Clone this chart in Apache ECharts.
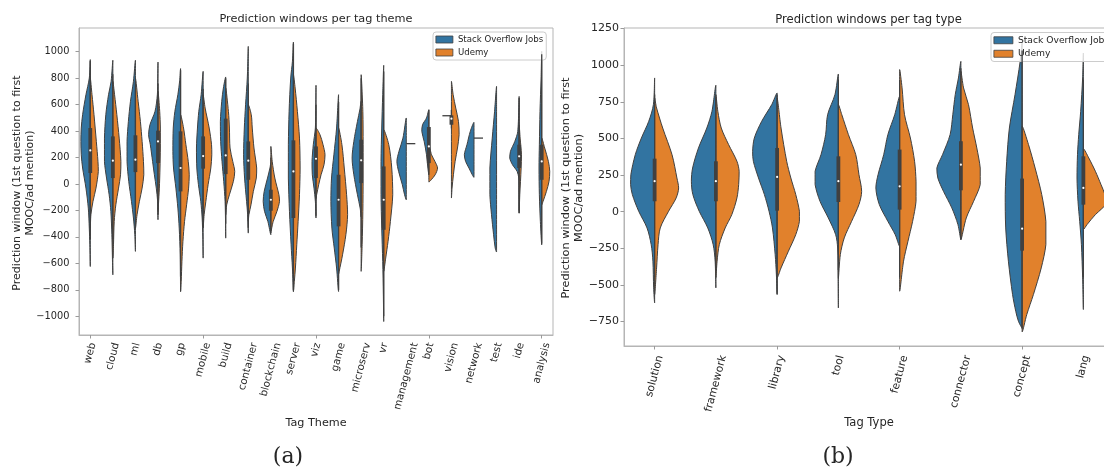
<!DOCTYPE html>
<html>
<head>
<meta charset="utf-8">
<script src="https://cdn.jsdelivr.net/npm/echarts@6/dist/echarts.min.js"></script>
<style>
  html, body { margin: 0; padding: 0; background: #fff; }
  #chart { width: 1104px; height: 469px; }
</style>
</head>
<body>
<div id="chart"></div>
<script>
// ---------- categories ----------
const themeCategories = ['web', 'cloud', 'ml', 'db', 'gp', 'mobile', 'build', 'container', 'blockchain',
  'server', 'viz', 'game', 'microserv', 'vr', 'management', 'bot', 'vision', 'network', 'test', 'ide', 'analysis'];
const typeCategories = ['solution', 'framework', 'library', 'tool', 'feature', 'connector', 'concept', 'lang'];

// ---------- y tick labels ----------
const themeTicks = [-1000, -800, -600, -400, -200, 0, 200, 400, 600, 800, 1000];
const typeTicks = [-750, -500, -250, 0, 250, 500, 750, 1000, 1250];

// ---------- density profiles: [value (days), relative half-width 0..1] ----------
const themeJobsProfiles = [
  [[940,0],[800,0.11],[675,0.48],[524,0.85],[423,1.0],[322,1.04],[221,1.0],[121,0.85],[-31,0.48],[-182,0.22],[-333,0.11],[-459,0.05],[-623,0]],
  [[935,0],[776,0.19],[675,0.48],[524,0.78],[347,0.93],[171,0.93],[45,0.7],[-81,0.41],[-207,0.22],[-383,0.11],[-686,0]],
  [[935,0],[776,0.22],[625,0.55],[473,0.78],[322,0.93],[171,0.93],[20,0.74],[-131,0.44],[-257,0.22],[-380,0.07],[-509,0]],
  [[922,0],[800,0.03],[675,0.07],[549,0.33],[448,0.89],[373,1.04],[297,0.85],[171,0.6],[70,0.4],[-31,0.19],[-131,0.04],[-270,0]],
  [[872,0],[780,0.1],[675,0.3],[549,0.63],[423,0.81],[247,0.85],[121,0.78],[-31,0.52],[-182,0.3],[-333,0.15],[-535,0.04],[-812,0]],
  [[851,0],[675,0.22],[549,0.48],[423,0.63],[272,0.74],[121,0.7],[-5,0.52],[-131,0.26],[-257,0.11],[-400,0.04],[-560,0]],
  [[809,0],[725,0.26],[625,0.44],[473,0.59],[322,0.56],[171,0.41],[20,0.22],[-131,0.07],[-280,0.02],[-409,0]],
  [[1040,0],[801,0.11],[599,0.3],[423,0.44],[221,0.52],[45,0.41],[-131,0.19],[-232,0.07],[-371,0]],
  [[160,0],[121,0.1],[45,0.37],[-56,0.74],[-131,0.85],[-207,0.7],[-283,0.33],[-383,0]],
  [[1073,0],[927,0.11],[801,0.3],[549,0.48],[297,0.56],[45,0.56],[-207,0.44],[-459,0.26],[-635,0.11],[-812,0]],
  [[746,0],[600,0.02],[423,0.07],[297,0.3],[171,0.44],[70,0.41],[-31,0.22],[-131,0.07],[-257,0]],
  [[675,0],[423,0.22],[221,0.52],[45,0.78],[-131,0.85],[-333,0.74],[-484,0.48],[-635,0.22],[-812,0]],
  [[625,0],[560,0.15],[473,0.41],[322,0.81],[196,1.0],[70,0.81],[-81,0.41],[-182,0.11],[-250,0]],
  [[897,0],[675,0.11],[423,0.22],[171,0.3],[-81,0.3],[-333,0.22],[-585,0.11],[-837,0.04],[-1039,0]],
  [[499,0],[347,0.37],[247,0.81],[171,1.04],[95,0.85],[-5,0.44],[-81,0.19],[-119,0]],
  [[562,0],[499,0.26],[448,0.7],[398,0.78],[322,0.52],[221,0.26],[121,0.11],[70,0]],
  null,
  [[466,0],[398,0.41],[297,0.78],[221,1.07],[171,0.93],[121,0.56],[70,0.19],[50,0]],
  [[738,0],[549,0.22],[347,0.48],[121,0.74],[-81,0.74],[-232,0.56],[-383,0.33],[-484,0.15],[-514,0]],
  [[662,0],[398,0.15],[322,0.48],[247,0.96],[196,1.04],[146,0.74],[95,0.22],[45,0.04],[0,0.02],[-220,0]],
  [[1003,0],[801,0.07],[549,0.19],[297,0.26],[121,0.3],[-81,0.26],[-283,0.15],[-459,0]]
];
const themeUdemyProfiles = [
  [[801,0],[675,0.19],[524,0.41],[322,0.67],[171,0.85],[95,0.89],[-31,0.63],[-131,0.3],[-232,0.07],[-333,0]],
  [[776,0],[675,0.19],[524,0.44],[347,0.7],[171,0.89],[70,0.85],[-31,0.63],[-157,0.33],[-283,0.15],[-459,0.07],[-560,0]],
  [[800,0],[625,0.3],[473,0.55],[322,0.74],[171,0.89],[70,0.93],[-31,0.74],[-131,0.44],[-232,0.18],[-333,0]],
  [[700,0],[549,0.19],[423,0.26],[272,0.26],[121,0.22],[-31,0.15],[-157,0.05],[-232,0]],
  [[524,0],[423,0.33],[297,0.59],[171,0.85],[70,0.96],[-31,0.89],[-157,0.67],[-283,0.44],[-434,0.26],[-585,0.15],[-736,0.07],[-812,0]],
  [[675,0],[574,0.22],[423,0.67],[297,0.93],[221,0.96],[121,0.85],[-5,0.55],[-131,0.3],[-232,0.11],[-333,0]],
  [[725,0],[549,0.3],[423,0.41],[272,0.48],[171,0.78],[95,1.0],[20,0.85],[-81,0.41],[-157,0.11],[-232,0]],
  [[599,0],[524,0.33],[423,0.44],[272,0.63],[121,0.93],[45,0.89],[-56,0.56],[-157,0.3],[-232,0.07],[-280,0]],
  [[284,0],[171,0.15],[45,0.44],[-81,0.89],[-131,0.96],[-207,0.67],[-283,0.26],[-358,0]],
  [[826,0],[725,0.19],[549,0.44],[347,0.67],[121,0.74],[-81,0.67],[-283,0.52],[-459,0.37],[-635,0.22],[-736,0.1],[-812,0]],
  [[423,0],[373,0.44],[297,0.78],[221,1.0],[146,0.89],[70,0.56],[-5,0.3],[-81,0.07],[-110,0]],
  [[423,0],[297,0.37],[121,0.63],[-81,0.89],[-232,1.0],[-383,0.81],[-535,0.44],[-660,0.07],[-680,0]],
  [[826,0],[549,0.19],[297,0.22],[45,0.22],[-207,0.19],[-459,0.11],[-660,0]],
  [[410,0],[297,0.56],[121,0.89],[-81,1.0],[-283,0.74],[-434,0.48],[-560,0.22],[-660,0]],
  null,
  [[297,0],[221,0.3],[171,0.67],[121,0.96],[70,0.7],[32,0.26],[15,0]],
  [[776,0],[675,0.19],[574,0.48],[473,0.78],[373,0.85],[272,0.67],[171,0.41],[70,0.22],[-31,0.07],[-106,0]],
  null,
  null,
  [[448,0],[347,0.11],[221,0.26],[121,0.22],[20,0.15],[-81,0.07],[-220,0]],
  [[347,0],[272,0.33],[171,0.74],[95,0.89],[20,0.81],[-56,0.52],[-131,0.15],[-157,0]]
];
const typeJobsProfiles = [
  [[913,0],[731,0.05],[617,0.24],[503,0.54],[389,0.79],[253,0.97],[185,0.98],[117,0.91],[3,0.65],[-111,0.31],[-225,0.14],[-338,0.07],[-520,0.04],[-623,0]],
  [[863,0],[685,0.16],[571,0.37],[435,0.71],[298,0.95],[208,1.0],[117,0.94],[3,0.68],[-111,0.33],[-225,0.11],[-338,0.03],[-520,0]],
  [[810,0],[731,0.22],[617,0.63],[503,0.93],[412,1.0],[344,0.97],[230,0.76],[117,0.52],[3,0.33],[-111,0.19],[-293,0.08],[-430,0.03],[-566,0]],
  [[940,0],[799,0.14],[662,0.44],[526,0.52],[389,0.71],[276,0.95],[185,0.95],[71,0.75],[-43,0.41],[-157,0.11],[-248,0.03],[-450,0.01],[-657,0]],
  [[788,0],[662,0.2],[526,0.48],[389,0.65],[253,0.88],[162,0.97],[49,0.83],[-66,0.48],[-157,0.18],[-236,0]],
  [[1026,0],[913,0.1],[799,0.23],[662,0.33],[526,0.44],[389,0.75],[298,0.98],[230,0.94],[139,0.71],[26,0.37],[-88,0.12],[-190,0]],
  [[1150,0],[1026,0.08],[799,0.29],[571,0.52],[344,0.63],[117,0.69],[-111,0.67],[-338,0.56],[-566,0.39],[-680,0.26],[-748,0.15],[-793,0]],
  [[1083,0],[913,0.03],[685,0.11],[526,0.19],[389,0.24],[230,0.26],[71,0.22],[-66,0.15],[-225,0.08],[-452,0.03],[-668,0]]
];
const typeUdemyProfiles = [
  [[776,0],[708,0.08],[571,0.33],[389,0.71],[230,0.91],[162,0.98],[94,0.88],[3,0.57],[-111,0.23],[-225,0.14],[-384,0.08],[-566,0]],
  [[799,0],[685,0.08],[571,0.22],[458,0.52],[344,0.86],[276,0.95],[185,0.93],[94,0.86],[-20,0.65],[-111,0.38],[-225,0.14],[-338,0.05],[-450,0]],
  [[776,0],[571,0.16],[344,0.39],[230,0.56],[117,0.76],[3,0.91],[-66,0.91],[-157,0.76],[-270,0.46],[-384,0.16],[-452,0]],
  [[731,0],[662,0.14],[526,0.41],[389,0.71],[253,0.84],[139,0.95],[49,0.84],[-66,0.54],[-179,0.24],[-293,0.08],[-452,0]],
  [[970,0],[845,0.1],[662,0.2],[503,0.44],[344,0.61],[208,0.67],[71,0.67],[-66,0.53],[-202,0.34],[-338,0.16],[-543,0]],
  [[958,0],[845,0.11],[731,0.31],[571,0.48],[435,0.65],[298,0.79],[185,0.79],[71,0.52],[-43,0.22],[-190,0]],
  [[583,0],[458,0.26],[298,0.53],[117,0.8],[-66,0.97],[-225,0.97],[-384,0.78],[-566,0.46],[-702,0.19],[-821,0]],
  [[430,0],[367,0.22],[276,0.49],[185,0.72],[117,0.88],[60,0.95],[20,0.75],[-20,0.49],[-88,0.15],[-122,0]]
];

// ---------- inner boxes: [lower whisker, q1, median, q3, upper whisker] ----------
const themeBoxStats = [
  [-420, 83, 254, 423, 930], [-420, 45, 176, 360, 830], [-330, 90, 184, 368, 780], [-200, 158, 322, 403, 760],
  [-700, -56, 121, 398, 860], [-330, 116, 211, 360, 720], [-300, 75, 216, 494, 800], [-330, 32, 176, 322, 760],
  [-370, -202, -119, -43, 200], [-800, -257, 95, 330, 1060], [-240, 45, 191, 284, 600], [-800, -320, -119, 70, 620],
  [-480, 7, 179, 335, 800], [-1000, -346, -119, 133, 850], null, [70, 158, 284, 431, 560],
  [420, 448, 494, 519, 560], null, null, [-200, 121, 209, 297, 650], [-450, 32, 171, 297, 980]
];
const typeBoxStats = [
  [-450, 71, 208, 362, 800], [-400, 71, 208, 344, 780], [-560, 7, 237, 435, 800], [-400, 66, 208, 378, 900],
  [-450, 14, 173, 424, 900], [-190, 146, 321, 481, 980], [-800, -266, -116, 226, 1100], [-450, 48, 162, 378, 900]
];

// ---------- groups with a single observation: [category, side, value] ----------
const themeSingleObs = [['management', 'Udemy', 305], ['vision', 'Stack Overflow Jobs', 516], ['network', 'Udemy', 347]];

// ---------- styling ----------
const BLUE = '#3274a1';
const ORANGE = '#e1812c';
const EDGE = '#404040';
const TEXT = '#262626';
const SPINE = '#b5b5b5';
const FAMILY = '"DejaVu Sans", sans-serif';
const THEME_RANGE = [-1141, 1179];
const TYPE_RANGE = [-917, 1254];

const measureCtx = document.createElement('canvas').getContext('2d');
function textWidth(t, font) { measureCtx.font = font; return measureCtx.measureText(t).width; }
const fmtTick = v => (v < 0 ? '\u2212' + Math.abs(v) : String(v));

function bounds(points) {
  const min = [Infinity, Infinity], max = [-Infinity, -Infinity];
  points.forEach(p => {
    min[0] = Math.min(min[0], p[0]); min[1] = Math.min(min[1], p[1]);
    max[0] = Math.max(max[0], p[0]); max[1] = Math.max(max[1], p[1]);
  });
  return [min, max];
}

// one half of a split violin per category; side = -1 (left) or +1 (right)
function halfViolins(name, gi, profiles, side, color) {
  return {
    type: 'custom', name, xAxisIndex: gi, yAxisIndex: gi, z: 2, silent: true,
    itemStyle: { color, borderColor: EDGE },
    data: profiles.map((p, i) => [i, p ? p[0][0] : 0]),
    renderItem(params, api) {
      const i = params.dataIndex;
      const prof = profiles[i];
      if (!prof) return null;
      const half = api.size([1, 0])[0] * 0.4;
      const edge = prof.map(([v, w]) => { const c = api.coord([i, v]); return [c[0] + side * w * half, c[1]]; });
      const center = prof.slice(1, -1).reverse().map(([v]) => api.coord([i, v]));
      const pts = edge.concat(center);
      return {
        type: 'polygon',
        shape: { points: pts, smooth: 0.3, smoothConstraint: bounds(pts) },
        style: { fill: color, stroke: EDGE, lineWidth: 1 }
      };
    }
  };
}

// dark box (IQR), thin whisker line and white median dot
function innerBoxes(gi, stats) {
  return {
    type: 'custom', name: 'box', xAxisIndex: gi, yAxisIndex: gi, z: 4, silent: true,
    data: stats.map((s, i) => [i, s ? s[2] : 0]),
    renderItem(params, api) {
      const i = params.dataIndex;
      const s = stats[i];
      if (!s) return null;
      const [lo, q1, med, q3, hi] = s.map(v => api.coord([i, v]));
      const cx = lo[0];
      return {
        type: 'group',
        children: [
          { type: 'line', shape: { x1: cx, y1: lo[1], x2: cx, y2: hi[1] }, style: { stroke: EDGE, lineWidth: 1.3 } },
          { type: 'rect', shape: { x: cx - 1.9, y: q3[1], width: 3.8, height: q1[1] - q3[1] }, style: { fill: EDGE } },
          { type: 'circle', shape: { cx, cy: med[1], r: 1.1 }, style: { fill: '#ffffff' } }
        ]
      };
    }
  };
}

// horizontal stick for a group holding one observation
function singleSticks(gi, cats, obs) {
  return {
    type: 'custom', name: 'single', xAxisIndex: gi, yAxisIndex: gi, z: 3, silent: true,
    data: obs.map(o => [cats.indexOf(o[0]), o[2]]),
    renderItem(params, api) {
      const o = obs[params.dataIndex];
      const c = api.coord([cats.indexOf(o[0]), o[2]]);
      const half = api.size([1, 0])[0] * 0.4;
      const side = o[1] === 'Udemy' ? 1 : -1;
      return { type: 'line', shape: { x1: c[0], y1: c[1], x2: c[0] + side * half, y2: c[1] }, style: { stroke: EDGE, lineWidth: 1.3 } };
    }
  };
}

// category names rotated 75°, bounding box centred under each tick
function categoryLabels(gi, cats, yMin, fontSize, pad) {
  const font = fontSize + 'px ' + FAMILY;
  const a = 75 * Math.PI / 180;
  return {
    type: 'custom', name: 'labels', xAxisIndex: gi, yAxisIndex: gi, z: 5, silent: true,
    data: cats.map((c, i) => [i, yMin]),
    renderItem(params, api) {
      const i = params.dataIndex;
      const c = api.coord([i, yMin]);
      const L = textWidth(cats[i], font);
      const H = L * Math.sin(a) + fontSize * 1.12 * Math.cos(a);
      return {
        type: 'text', x: c[0], y: c[1] + pad + H / 2, rotation: a,
        style: { text: cats[i], font, fill: TEXT, align: 'center', verticalAlign: 'middle' }
      };
    }
  };
}

function legendBox(left, top, fontSize, itemWidth, lineHeight) {
  return {
    left, top, orient: 'vertical', icon: 'rect', selectedMode: false,
    itemWidth, itemHeight: 7, itemGap: 3, itemTextGap: 6,
    padding: [2.5, 3, 2.5, 2.5],
    backgroundColor: 'rgba(255,255,255,0.8)', borderColor: '#cccccc', borderWidth: 1, borderRadius: 3,
    itemStyle: { borderColor: EDGE, borderWidth: 0.8 },
    textStyle: { fontSize, lineHeight, color: TEXT, fontFamily: FAMILY },
    data: ['Stack Overflow Jobs', 'Udemy']
  };
}

function catAxis(gi, cats) {
  return {
    type: 'category', gridIndex: gi, data: cats, boundaryGap: true,
    axisLine: { onZero: false, lineStyle: { color: SPINE, width: 1 } },
    axisTick: { show: true, alignWithLabel: true, length: 3.5, lineStyle: { color: '#9a9a9a' } },
    axisLabel: { show: false },
    splitLine: { show: false }
  };
}

function valAxis(gi, range, ticks, fontSize, margin) {
  return {
    type: 'value', gridIndex: gi, min: range[0], max: range[1],
    axisLine: { show: true, onZero: false, lineStyle: { color: SPINE, width: 1 } },
    axisTick: { show: true, length: 3.5, customValues: ticks, lineStyle: { color: '#9a9a9a' } },
    axisLabel: { customValues: ticks, formatter: fmtTick, fontSize, color: TEXT, fontFamily: FAMILY, margin },
    splitLine: { show: false }
  };
}

const yTitle = 'Prediction window (1st question to first\nMOOC/ad mention)';
function txt(x, y, text, font, extra) {
  return Object.assign({ type: 'text', x, y, style: { text, font, fill: TEXT, align: 'center', verticalAlign: 'middle', lineHeight: 13 } }, extra || {});
}

const option = {
  animation: false,
  backgroundColor: '#ffffff',
  grid: [
    { left: 79, top: 28, width: 474, height: 307, show: true, borderColor: SPINE, borderWidth: 1, outerBoundsMode: 'none', containLabel: false },
    { left: 624, top: 28, width: 490, height: 318, show: true, borderColor: SPINE, borderWidth: 1, outerBoundsMode: 'none', containLabel: false }
  ],
  xAxis: [catAxis(0, themeCategories), catAxis(1, typeCategories)],
  yAxis: [valAxis(0, THEME_RANGE, themeTicks, 9.8, 9.5), valAxis(1, TYPE_RANGE, typeTicks, 11, 5)],
  legend: [legendBox(433, 32, 8.6, 17, 10), legendBox(991, 32.5, 9.2, 19, 10.5)],
  graphic: [
    txt(316, 19, 'Prediction windows per tag theme', '11.3px ' + FAMILY),
    txt(868.5, 20, 'Prediction windows per tag type', '11.6px ' + FAMILY),
    txt(24, 183, yTitle, '11px ' + FAMILY, { rotation: Math.PI / 2 }),
    txt(573, 188, yTitle, '11.3px ' + FAMILY, { rotation: Math.PI / 2 }),
    txt(316, 423, 'Tag Theme', '11.2px ' + FAMILY),
    txt(869, 423, 'Tag Type', '11.5px ' + FAMILY),
    txt(288, 457, '(a)', '22px "DejaVu Serif", serif'),
    txt(838, 457, '(b)', '22px "DejaVu Serif", serif')
  ],
  series: [
    halfViolins('Stack Overflow Jobs', 0, themeJobsProfiles, -1, BLUE),
    halfViolins('Udemy', 0, themeUdemyProfiles, 1, ORANGE),
    singleSticks(0, themeCategories, themeSingleObs),
    innerBoxes(0, themeBoxStats),
    categoryLabels(0, themeCategories, THEME_RANGE[0], 10.3, 6.5),
    halfViolins('Stack Overflow Jobs', 1, typeJobsProfiles, -1, BLUE),
    halfViolins('Udemy', 1, typeUdemyProfiles, 1, ORANGE),
    innerBoxes(1, typeBoxStats),
    categoryLabels(1, typeCategories, TYPE_RANGE[0], 10.8, 8)
  ]
};

const chart = echarts.init(document.getElementById('chart'), null, { renderer: 'canvas' });
chart.setOption(option);
</script>
</body>
</html>
